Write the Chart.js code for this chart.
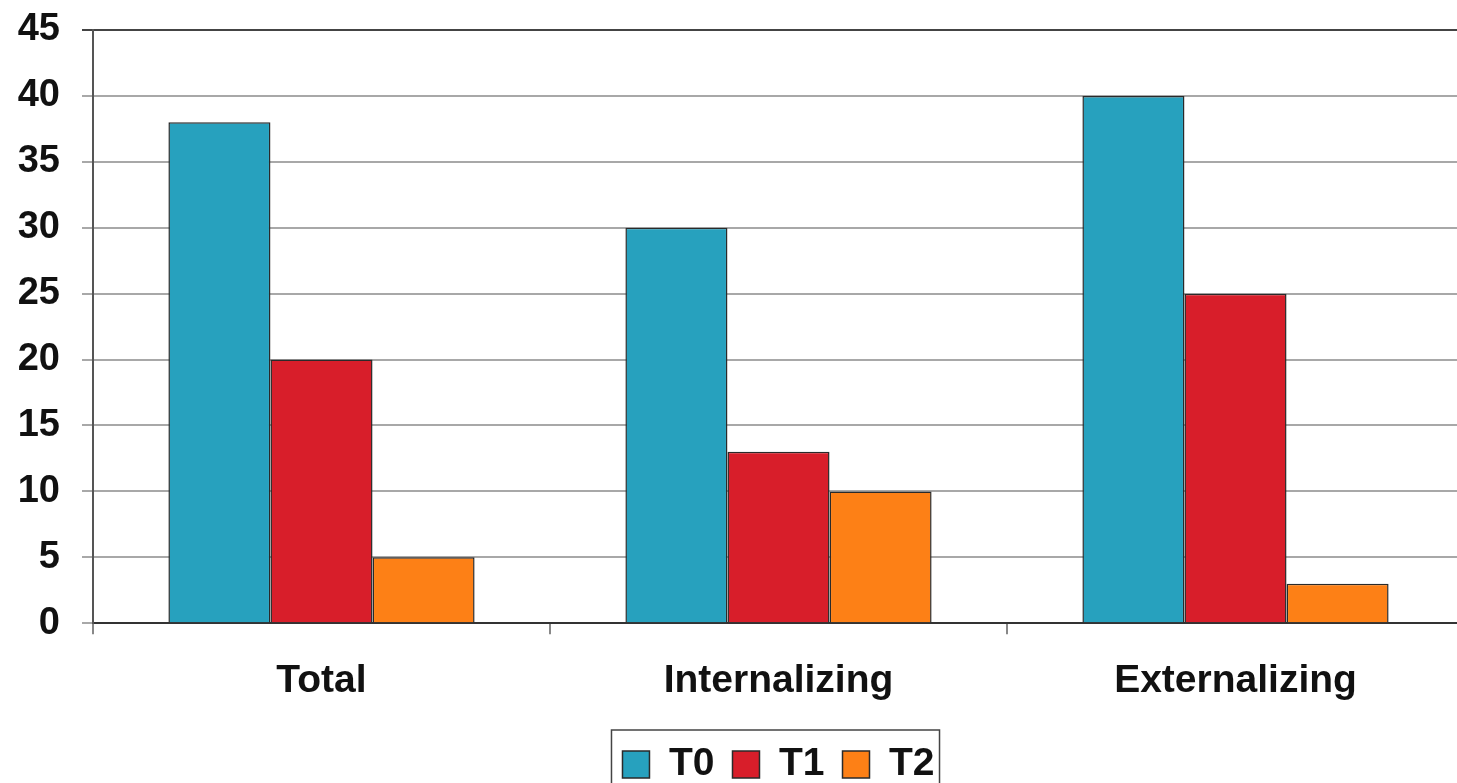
<!DOCTYPE html>
<html lang="en">
<head>
    <meta charset="UTF-8">
    <script src="https://cdn.jsdelivr.net/npm/chart.js"></script>
    <title>T0 T1 T2</title>
</head>
<style>
    html, body {
        margin: 0;
        padding: 0;
        background: #fff;
        overflow: hidden;
    }
    .chart-container {
        width: 1464px;
        height: 794px;
    }
</style>
<body>
<div class="chart-container">
    <canvas id="scores"></canvas>
</div>

<script>
    // data
    const categories = ['Total', 'Internalizing', 'Externalizing'];
    const seriesNames = ['T0', 'T1', 'T2'];
    const t0Values = [38, 30, 40];
    const t1Values = [20, 13, 25];
    const t2Values = [5, 10, 3];
    const yTicks = [0, 5, 10, 15, 20, 25, 30, 35, 40, 45];

    const colors = ['#27a1be', '#d81e2a', '#fd8016'];
    const fontFamily = "'Liberation Sans', Arial, sans-serif";
    const labelFont = {family: fontFamily, size: 39, weight: 'bold'};
    const tickFont = {family: fontFamily, size: 38, weight: 'bold'};

    // frame around the legend, like the old office chart
    const legendFrame = {
        id: 'legendFrame',
        afterDraw(chart) {
            const boxes = chart.legend && chart.legend.legendHitBoxes;
            if (!boxes || !boxes.length) return;
            const first = boxes[0];
            const last = boxes[boxes.length - 1];
            const c = chart.ctx;
            c.save();
            c.strokeStyle = '#444';
            c.lineWidth = 1.5;
            c.strokeRect(first.left - 11, first.top - 15,
                last.left + last.width - first.left + 16, chart.height);
            c.restore();
        }
    };

    new Chart(document.getElementById('scores'), {
        type: 'bar',
        data: {
            labels: categories,
            datasets: [t0Values, t1Values, t2Values].map((vals, i) => ({
                label: seriesNames[i],
                data: vals,
                backgroundColor: colors[i],
                borderColor: '#2a2a2a',
                borderWidth: 1.5,
                barPercentage: 1,
                categoryPercentage: 0.67
            }))
        },
        options: {
            responsive: true,
            maintainAspectRatio: false,
            animation: false,
            layout: {
                padding: {top: 0, left: 0, right: 0, bottom: 0}
            },
            plugins: {
                legend: {
                    position: 'bottom',
                    fullSize: false,
                    labels: {
                        font: labelFont,
                        color: '#111',
                        boxWidth: 27,
                        boxHeight: 27,
                        padding: 18
                    }
                },
                tooltip: {enabled: false}
            },
            scales: {
                x: {
                    grid: {
                        drawOnChartArea: false,
                        drawTicks: true,
                        tickLength: 11,
                        color: '#888',
                        lineWidth: 2
                    },
                    border: {color: '#333', width: 2},
                    ticks: {
                        font: labelFont,
                        color: '#111',
                        padding: 24
                    },
                    afterFit: (scale) => {
                        scale.height -= 2;
                    }
                },
                y: {
                    min: 0,
                    max: 45,
                    afterBuildTicks: (scale) => {
                        scale.ticks = yTicks.map(v => ({value: v}));
                    },
                    afterFit: (scale) => {
                        scale.width = 93;
                        scale.paddingTop = 30;
                    },
                    grid: {
                        color: (ctx) => ctx.tick && ctx.tick.value === 45 ? '#444' : '#a8a8a8',
                        lineWidth: 2,
                        tickLength: 11
                    },
                    border: {color: '#555', width: 2},
                    ticks: {
                        font: tickFont,
                        color: '#111',
                        padding: 22
                    }
                }
            }
        },
        plugins: [legendFrame]
    });
</script>
</body>
</html>
